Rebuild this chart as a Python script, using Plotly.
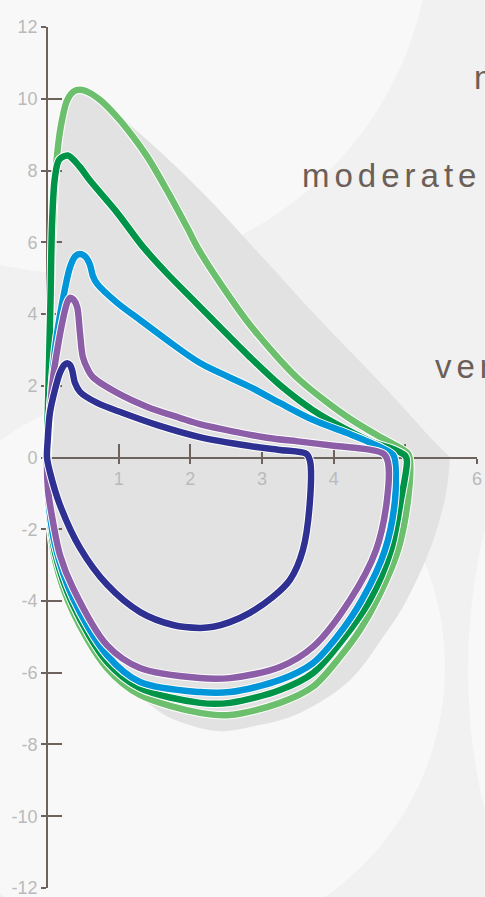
import plotly.graph_objects as go

# ---- flow-volume loops: volume (L) on x, flow (L/s) on y ----
normal_vol = [0, 0.02, 0.05, 0.09, 0.13, 0.19, 0.28, 0.37, 0.46, 0.58, 0.75, 0.95, 1.12, 1.40, 1.67,
              1.95, 2.13, 2.55, 2.83, 3.25, 3.53, 3.90, 4.25, 4.65, 4.90, 5.04, 5.065,
              5.037, 4.898, 4.605, 4.367, 4.088, 3.711, 3.251, 2.553, 2.135, 1.298, 0.837, 0.363,
              0.112, 0.014, 0]
normal_flow = [0, 2.0, 4.5, 6.8, 8.2, 9.2, 9.95, 10.2, 10.25, 10.18, 9.95, 9.55, 9.15, 8.38, 7.46,
               6.43, 5.75, 4.47, 3.70, 2.72, 2.15, 1.55, 1.05, 0.57, 0.30, 0.10, -0.10,
               -1.18, -2.58, -3.97, -4.81, -5.56, -6.39, -6.84, -7.18, -7.12, -6.62, -5.87, -4.31,
               -2.86, -1.30, 0]

mild_vol = [0, 0.02, 0.05, 0.07, 0.11, 0.17, 0.29, 0.45, 0.60, 0.98, 1.34, 1.67, 2.04,
            2.83, 3.25, 3.71, 4.19, 4.55, 4.85, 5.00, 5.023,
            4.939, 4.800, 4.507, 4.088, 3.711, 3.251, 2.553, 2.135, 1.298, 0.837, 0.363, 0.112,
            0.014, 0]
mild_flow = [0, 2.0, 4.5, 6.5, 7.8, 8.3, 8.42, 8.12, 7.72, 6.82, 5.87, 5.14, 4.39,
             2.80, 2.02, 1.32, 0.77, 0.42, 0.22, 0.05, -0.10,
             -1.18, -2.58, -3.97, -5.17, -6.01, -6.48, -6.84, -6.84, -6.43, -5.70, -4.11, -2.66,
             -1.18, 0]

moderate_vol = [0, 0.02, 0.06, 0.11, 0.18, 0.25, 0.32, 0.39, 0.46, 0.54, 0.60, 0.64, 0.70, 0.98, 1.30,
                1.67, 2.13, 2.83, 3.25, 3.71, 4.19, 4.65, 4.83, 4.856,
                4.856, 4.716, 4.395, 4.046, 3.711, 3.251, 2.553, 2.135, 1.298, 0.837, 0.363, 0.112,
                0.014, 0]
moderate_flow = [0, 0.5, 1.8, 3.0, 3.95, 4.70, 5.30, 5.60, 5.67, 5.59, 5.37, 5.06, 4.84, 4.31, 3.83,
                 3.28, 2.64, 1.97, 1.52, 1.05, 0.68, 0.29, 0.07, -0.10,
                 -1.18, -2.58, -3.97, -5.00, -5.73, -6.20, -6.54, -6.54, -6.26, -5.51, -3.92, -2.44,
                 -1.05, 0]

severe_vol = [0, 0.04, 0.08, 0.15, 0.22, 0.28, 0.32, 0.37, 0.42, 0.46, 0.50, 0.57, 0.64, 0.98, 1.40,
              1.86, 2.13, 3.07, 3.50, 4.00, 4.50, 4.70, 4.758,
              4.744, 4.591, 4.228, 3.711, 3.251, 2.553, 2.135, 1.298, 0.837, 0.363, 0.181, 0.084,
              0.014, 0]
severe_flow = [0, 1.24, 2.16, 3.08, 3.83, 4.31, 4.45, 4.40, 4.20, 3.47, 2.80, 2.45, 2.24, 1.80, 1.41,
               1.10, 0.93, 0.55, 0.45, 0.33, 0.22, 0.10, -0.13,
               -1.18, -2.58, -3.97, -5.28, -5.84, -6.15, -6.15, -5.87, -5.23, -3.64, -2.72, -1.80,
               -0.91, 0]

very_severe_vol = [0, 0.01, 0.04, 0.11, 0.18, 0.24, 0.28, 0.32, 0.35, 0.39, 0.46, 0.70, 1.06, 1.53,
                   2.13, 2.83, 3.25, 3.62, 3.67,
                   3.67, 3.57, 3.39, 3.15, 2.83, 2.55, 2.32, 2.13, 1.76, 1.30, 0.84, 0.46, 0.18,
                   0.04, 0]
very_severe_flow = [0, 0.49, 1.24, 1.88, 2.36, 2.58, 2.63, 2.58, 2.44, 2.08, 1.83, 1.52, 1.24, 0.91,
                    0.57, 0.32, 0.21, 0.10, -0.10,
                    -1.18, -2.58, -3.41, -3.89, -4.33, -4.59, -4.72, -4.75, -4.67, -4.31, -3.55,
                    -2.52, -1.32, -0.40, 0]

# grey band enclosing the range of loops
band_vol = [0, 0.02, 0.05, 0.09, 0.13, 0.19, 0.28, 0.37, 0.46, 0.60, 0.84, 1.58, 2.27, 3.04, 3.81,
            4.72, 5.40, 5.60, 5.62, 5.55, 5.34, 5.02, 4.69, 4.23, 3.53, 2.83, 2.34, 1.79, 1.44,
            0.84, 0.36, 0.10, 0.02]
band_flow = [0, 2.0, 4.5, 6.8, 8.2, 9.2, 9.95, 10.2, 10.25, 10.17, 9.83, 8.52, 7.18, 5.51, 3.83,
             1.94, 0.45, 0.05, -0.07, -1.18, -2.58, -3.97, -5.00, -6.20, -7.12, -7.51, -7.62,
             -7.32, -6.90, -5.95, -4.40, -2.90, -1.30]

series_names = ["normal", "mild", "moderate", "severe", "very severe"]
series_vol = [normal_vol, mild_vol, moderate_vol, severe_vol, very_severe_vol]
series_flow = [normal_flow, mild_flow, moderate_flow, severe_flow, very_severe_flow]
series_colors = ["#6cbf6c", "#009448", "#0096d9", "#8c5ea8", "#2e3192"]

x_ticks = [1, 2, 3, 4, 5, 6]
x_labels = ["1", "2", "3", "4", "5", "6"]
y_ticks = list(range(-12, 13, 2))
y_labels = [str(v) for v in y_ticks]

label_texts = ["normal", "moderate", "very severe"]

AXIS = "#6d625c"
TICKTXT = "#bababa"
TEXT = "#6b5f58"
W, H = 485, 897
ML, MR, MT, MB = 42, 8, 27, 9
X_RANGE = [-0.07, 6]
Y_RANGE = [-12.001, 12.001]
LINE_W = 6.5


def smooth_closed_path(xs, ys, t=1.0):
    pts = list(zip(xs, ys))
    n = len(pts)
    d = f"M {pts[0][0]},{pts[0][1]}"
    for i in range(n):
        p0 = pts[i - 1]
        p1 = pts[i]
        p2 = pts[(i + 1) % n]
        p3 = pts[(i + 2) % n]
        c1 = (p1[0] + (p2[0] - p0[0]) * t / 6, p1[1] + (p2[1] - p0[1]) * t / 6)
        c2 = (p2[0] - (p3[0] - p1[0]) * t / 6, p2[1] - (p3[1] - p1[1]) * t / 6)
        d += f" C {c1[0]:.4f},{c1[1]:.4f} {c2[0]:.4f},{c2[1]:.4f} {p2[0]},{p2[1]}"
    return d + " Z"


def px_to_paper_x(px):
    return (px - ML) / (W - ML - MR)


def px_to_paper_y(py):
    return (H - MB - py) / (H - MT - MB)


def paper_circle(cx, cy, r, color):
    return dict(type="circle", xref="paper", yref="paper", layer="below",
                x0=px_to_paper_x(cx - r), x1=px_to_paper_x(cx + r),
                y0=px_to_paper_y(cy + r), y1=px_to_paper_y(cy - r),
                fillcolor=color, line=dict(width=0))


fig = go.Figure()

for name, vx, fy, col in zip(series_names, series_vol, series_flow, series_colors):
    # thin white casing under each loop keeps neighbouring loops apart
    fig.add_trace(go.Scatter(
        x=vx, y=fy, mode="lines", name=name + " casing",
        line=dict(color="#ffffff", width=LINE_W + 2, shape="spline", smoothing=0.9),
        hoverinfo="skip", showlegend=False))
    fig.add_trace(go.Scatter(
        x=vx, y=fy, mode="lines", name=name,
        line=dict(color=col, width=LINE_W, shape="spline", smoothing=0.9),
        hoverinfo="skip", showlegend=False))

# companion axes carrying the inward half of each tick
fig.add_trace(go.Scatter(x=[None], y=[None], xaxis="x2", yaxis="y2",
                         hoverinfo="skip", showlegend=False))

light = "#f8f8f8"
shapes = [
    paper_circle(81, -76, 350, light),
    paper_circle(165, 667, 280, light),
    paper_circle(1068, 670, 600, light),
    dict(type="path", xref="x", yref="y", layer="below",
         path=smooth_closed_path(band_vol, band_flow),
         fillcolor="#e2e2e2", line=dict(width=0)),
]

tickfont = dict(family="Liberation Sans, Arial, sans-serif", size=18, color=TICKTXT)
y_pos = (0 - X_RANGE[0]) / (X_RANGE[1] - X_RANGE[0])

common = dict(showgrid=False, zeroline=False, layer="below traces", fixedrange=True,
              tickwidth=2, tickcolor=AXIS, automargin=False)

fig.update_layout(
    width=W, height=H,
    margin=dict(l=ML, r=MR, t=MT, b=MB, pad=0, autoexpand=False),
    paper_bgcolor="#f1f1f1",
    plot_bgcolor="rgba(0,0,0,0)",
    shapes=shapes,
    xaxis=dict(range=X_RANGE, domain=[0, 1], anchor="free", position=0.5,
               showline=True, linecolor=AXIS, linewidth=2,
               ticks="outside", ticklen=5, tickvals=x_ticks, ticktext=x_labels,
               tickfont=tickfont, ticklabeloverflow="allow", **common),
    yaxis=dict(range=Y_RANGE, domain=[0, 1], anchor="free", position=y_pos,
               showline=True, linecolor=AXIS, linewidth=2,
               ticks="outside", ticklen=5, tickvals=y_ticks, ticktext=y_labels,
               tickfont=tickfont, ticklabeloverflow="allow", **common),
    xaxis2=dict(range=X_RANGE, overlaying="x", anchor="free", position=0.5,
                showline=False, ticks="inside", ticklen=14, tickvals=x_ticks,
                showticklabels=False, **common),
    yaxis2=dict(range=Y_RANGE, overlaying="y", anchor="free", position=y_pos,
                showline=False, ticks="inside", ticklen=14, tickvals=y_ticks,
                showticklabels=False, **common),
)

label_font = dict(family="Liberation Sans, Arial, sans-serif", size=33, color=TEXT)
label_pos = [(472, 78), (300, 175), (433, 366)]
for txt, (px, py) in zip(label_texts, label_pos):
    fig.add_annotation(
        x=px_to_paper_x(px), y=px_to_paper_y(py), xref="paper", yref="paper",
        xanchor="left", yanchor="middle", showarrow=False,
        text=f'<span style="letter-spacing:5px">{txt}</span>', font=label_font)

fig.write_html("out.html")
